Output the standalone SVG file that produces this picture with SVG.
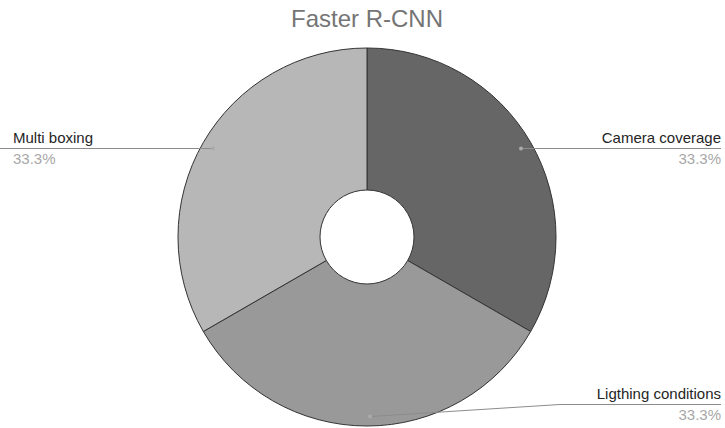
<svg xmlns="http://www.w3.org/2000/svg" width="725" height="428" viewBox="0 0 725 428">
  <style>
    .title { font-family: "Liberation Sans", Arial, sans-serif; font-size: 24px; fill: #757575; }
    .label { font-family: "Liberation Sans", Arial, sans-serif; font-size: 15px; fill: #252525; }
    .pct { font-family: "Liberation Sans", Arial, sans-serif; font-size: 15px; fill: #a8a8a8; }
    .slice { stroke: #333333; stroke-width: 1; stroke-linejoin: round; }
    .leader { fill: none; stroke: #8c8c8c; stroke-width: 1; }
    .dot { fill: #aaaaaa; }
  </style>
  <rect width="725" height="428" fill="#ffffff"/>

  <text class="title" x="367" y="27" text-anchor="middle">Faster R-CNN</text>

  <!-- donut: centre (367,237), outer r 189, inner r 47 -->
  <g id="slice-camera-coverage">
    <path class="slice" fill="#666666" d="M367,48 A189,189 0 0 1 530.68,331.5 L407.70,260.5 A47,47 0 0 0 367,190 Z"/>
  </g>
  <g id="slice-lighting-conditions">
    <path class="slice" fill="#999999" d="M530.68,331.5 A189,189 0 0 1 203.32,331.5 L326.30,260.5 A47,47 0 0 0 407.70,260.5 Z"/>
  </g>
  <g id="slice-multi-boxing">
    <path class="slice" fill="#b7b7b7" d="M203.32,331.5 A189,189 0 0 1 367,48 L367,190 A47,47 0 0 0 326.30,260.5 Z"/>
  </g>

  <g id="connectors">
    <polyline class="leader" points="213,148.5 0,148.5"/>
    <polyline class="leader" points="521,148.5 721,148.5"/>
    <polyline class="leader" points="370,416.5 560,404.5 721,404.5"/>
    <circle class="dot" cx="213" cy="148.5" r="2"/>
    <circle class="dot" cx="521" cy="148.5" r="2"/>
    <circle class="dot" cx="370" cy="416.5" r="2"/>
  </g>

  <g id="label-multi-boxing">
    <text class="label" x="13" y="143">Multi boxing</text>
    <text class="pct" x="13" y="164">33.3%</text>
  </g>
  <g id="label-camera-coverage">
    <text class="label" x="721" y="143" text-anchor="end">Camera coverage</text>
    <text class="pct" x="721" y="164" text-anchor="end">33.3%</text>
  </g>
  <g id="label-lighting-conditions">
    <text class="label" x="721" y="399" text-anchor="end">Ligthing conditions</text>
    <text class="pct" x="721" y="420" text-anchor="end">33.3%</text>
  </g>
</svg>
